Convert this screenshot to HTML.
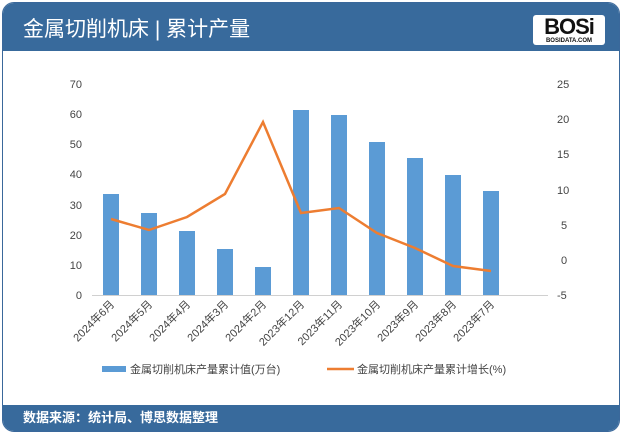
<!DOCTYPE html>
<html><head><meta charset="utf-8"><style>
body{margin:0;width:622px;height:434px;background:#fff;overflow:hidden;font-family:"Liberation Sans","Noto Sans CJK SC",sans-serif}
.card{position:absolute;left:2px;top:2px;width:616px;height:428px;border:1px solid #3a689b;border-radius:12px;overflow:hidden;background:#fff}
.hd{position:absolute;left:0;top:0;width:616px;height:48px;background:#386a9c}
.hd .t{position:absolute;left:20px;top:10px;color:#fff;font-size:21px}
.logo{position:absolute;left:530px;top:12px;width:72px;height:30px;background:#fff;border-radius:3px;font:900 22px "Liberation Sans",sans-serif;color:#111;text-align:center;line-height:24px;letter-spacing:-1px}
.logo small{position:absolute;left:0;right:0;bottom:1px;font-size:6px;line-height:6px;letter-spacing:0;font-weight:bold}
.ft{position:absolute;left:0;top:402px;width:616px;height:26px;background:#386a9c;color:#fff;font-size:13px;line-height:26px;padding-left:20px;box-sizing:border-box;font-weight:bold}
</style></head><body><div class="card">
<div class="hd"><div class="t">金属切削机床 | 累计产量</div><div class="logo">BOSi<small>BOSIDATA.COM</small></div></div>
<div class="ft">数据来源：统计局、博思数据整理</div>
</div>
<svg width="622" height="434" style="position:absolute;left:0;top:0" font-family="Liberation Sans,Noto Sans CJK SC,sans-serif" font-size="11" fill="#444">
<g text-anchor="end">
<text x="82" y="299">0</text><text x="82" y="269">10</text><text x="82" y="239">20</text><text x="82" y="209">30</text><text x="82" y="178">40</text><text x="82" y="148">50</text><text x="82" y="118">60</text><text x="82" y="88">70</text>
</g>
<g text-anchor="start">
<text x="557" y="299">-5</text><text x="561" y="264">0</text><text x="561" y="229">5</text><text x="557" y="194">10</text><text x="557" y="158">15</text><text x="557" y="123">20</text><text x="557" y="88">25</text>
</g>
<line x1="92" y1="295.5" x2="548" y2="295.5" stroke="#d0d0d0"/>
<g fill="#5b9bd5">
<rect x="103" y="194" width="16" height="101"/><rect x="141" y="213" width="16" height="82"/><rect x="179" y="231" width="16" height="64"/><rect x="217" y="249" width="16" height="46"/><rect x="255" y="267" width="16" height="28"/><rect x="293" y="110" width="16" height="185"/><rect x="331" y="115" width="16" height="180"/><rect x="369" y="142" width="16" height="153"/><rect x="407" y="158" width="16" height="137"/><rect x="445" y="175" width="16" height="120"/><rect x="483" y="191" width="16" height="104"/>
</g>
<polyline fill="none" stroke="#ed7d31" stroke-width="2.5" points="111,219 149,230 187,217 225,194 263,122 301,213 339,208 377,233 415,248 453,266 491,271"/>
<g font-size="11" text-anchor="end">
<text transform="translate(115,305) rotate(-45)">2024年6月</text><text transform="translate(153,305) rotate(-45)">2024年5月</text><text transform="translate(191,305) rotate(-45)">2024年4月</text><text transform="translate(229,305) rotate(-45)">2024年3月</text><text transform="translate(267,305) rotate(-45)">2024年2月</text><text transform="translate(305,305) rotate(-45)">2023年12月</text><text transform="translate(343,305) rotate(-45)">2023年11月</text><text transform="translate(381,305) rotate(-45)">2023年10月</text><text transform="translate(419,305) rotate(-45)">2023年9月</text><text transform="translate(457,305) rotate(-45)">2023年8月</text><text transform="translate(495,305) rotate(-45)">2023年7月</text>
</g>
<rect x="102" y="366" width="24" height="6" fill="#5b9bd5"/>
<text x="130" y="373">金属切削机床产量累计值(万台)</text>
<line x1="327" y1="369" x2="354" y2="369" stroke="#ed7d31" stroke-width="2.5"/>
<text x="357" y="373">金属切削机床产量累计增长(%)</text>
</svg>
</body></html>
